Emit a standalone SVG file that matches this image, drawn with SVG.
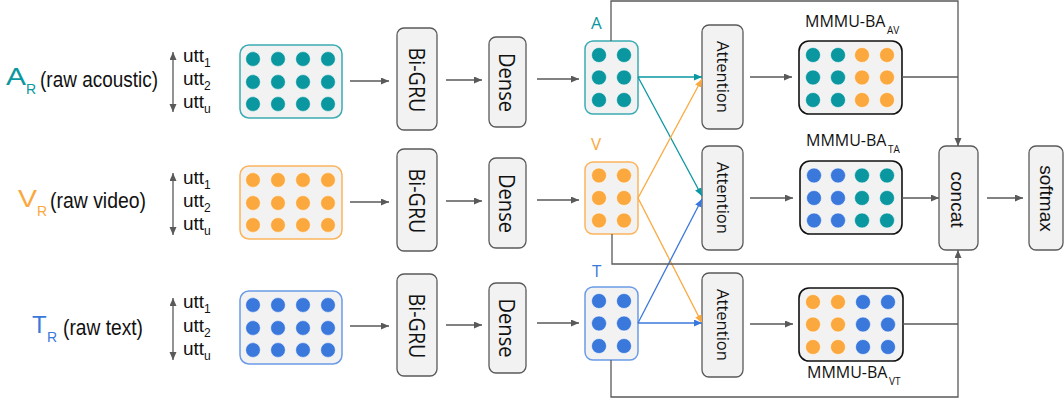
<svg xmlns="http://www.w3.org/2000/svg" width="1064" height="408" viewBox="0 0 1064 408">
<defs>
<style>
.box{fill:#f2f2f2;stroke:#595959;stroke-width:1.3}
.mm{fill:#f2f2f2;stroke:#111;stroke-width:1.6}
.ln{fill:none;stroke:#595959;stroke-width:1.3}
.tl{fill:none;stroke:#0a97a0;stroke-width:1.3}
.og{fill:none;stroke:#fba83e;stroke-width:1.3}
.bl{fill:none;stroke:#3b78dc;stroke-width:1.3}
.t{fill:#0a97a0}.o{fill:#fba83e}.b{fill:#3b78dc}
.dot{stroke:#fff;stroke-width:0.6}
.lab{font-family:"Liberation Sans",Arial,sans-serif;fill:#111}
.os{font-family:"Open Sans","Noto Sans",sans-serif;fill:#111}
.rot{font-family:"Open Sans","Noto Sans",sans-serif;fill:#111;text-anchor:middle}
</style>
<marker id="ag" markerUnits="userSpaceOnUse" markerWidth="9" markerHeight="8" refX="8" refY="3.5" orient="auto"><path d="M0,0 L8,3.5 L0,7 z" fill="#595959"/></marker>
<marker id="ags" markerUnits="userSpaceOnUse" markerWidth="9" markerHeight="8" refX="8" refY="3.5" orient="auto-start-reverse"><path d="M0,0 L8,3.5 L0,7 z" fill="#595959"/></marker>
<marker id="at" markerUnits="userSpaceOnUse" markerWidth="9" markerHeight="8" refX="8" refY="3.5" orient="auto"><path d="M0,0 L8,3.5 L0,7 z" fill="#0a97a0"/></marker>
<marker id="ao" markerUnits="userSpaceOnUse" markerWidth="9" markerHeight="8" refX="8" refY="3.5" orient="auto"><path d="M0,0 L8,3.5 L0,7 z" fill="#fba83e"/></marker>
<marker id="ab" markerUnits="userSpaceOnUse" markerWidth="9" markerHeight="8" refX="8" refY="3.5" orient="auto"><path d="M0,0 L8,3.5 L0,7 z" fill="#3b78dc"/></marker>
</defs>
<rect width="1064" height="408" fill="#fff"/>

<!-- left labels -->
<g id="label-A">
<text class="lab" x="6" y="85" font-size="24" textLength="20" lengthAdjust="spacingAndGlyphs" style="fill:#0a97a0">A</text>
<text class="lab" x="26" y="94" font-size="14" style="fill:#0a97a0">R</text>
<text class="lab" x="40" y="87" font-size="22" textLength="118" lengthAdjust="spacingAndGlyphs">(raw acoustic)</text>
</g>
<g id="label-V">
<text class="lab" x="18" y="207" font-size="24" textLength="19" lengthAdjust="spacingAndGlyphs" style="fill:#fba83e">V</text>
<text class="lab" x="37" y="216" font-size="14" style="fill:#fba83e">R</text>
<text class="lab" x="50" y="208" font-size="22" textLength="96" lengthAdjust="spacingAndGlyphs">(raw video)</text>
</g>
<g id="label-T">
<text class="lab" x="32" y="333" font-size="24" style="fill:#3b78dc">T</text>
<text class="lab" x="47" y="342" font-size="14" style="fill:#3b78dc">R</text>
<text class="lab" x="63" y="335" font-size="22" textLength="80" lengthAdjust="spacingAndGlyphs">(raw text)</text>
</g>

<!-- utterance labels -->
<g id="utt-A">
<line class="ln" x1="173" y1="52" x2="173" y2="112" marker-start="url(#ags)" marker-end="url(#ags)"/>
<text class="lab" x="183" y="62" font-size="19">utt</text><text class="lab" x="204" y="67" font-size="12">1</text>
<text class="lab" x="183" y="85" font-size="19">utt</text><text class="lab" x="204" y="90" font-size="12">2</text>
<text class="lab" x="183" y="108" font-size="19">utt</text><text class="lab" x="204" y="113" font-size="12">u</text>
</g>
<g id="utt-V">
<line class="ln" x1="173" y1="173" x2="173" y2="235" marker-start="url(#ags)" marker-end="url(#ags)"/>
<text class="lab" x="183" y="184" font-size="19">utt</text><text class="lab" x="204" y="189" font-size="12">1</text>
<text class="lab" x="183" y="207" font-size="19">utt</text><text class="lab" x="204" y="212" font-size="12">2</text>
<text class="lab" x="183" y="230" font-size="19">utt</text><text class="lab" x="204" y="235" font-size="12">u</text>
</g>
<g id="utt-T">
<line class="ln" x1="173" y1="298" x2="173" y2="360" marker-start="url(#ags)" marker-end="url(#ags)"/>
<text class="lab" x="183" y="308" font-size="19">utt</text><text class="lab" x="204" y="313" font-size="12">1</text>
<text class="lab" x="183" y="332" font-size="19">utt</text><text class="lab" x="204" y="337" font-size="12">2</text>
<text class="lab" x="183" y="355" font-size="19">utt</text><text class="lab" x="204" y="360" font-size="12">u</text>
</g>

<!-- input matrices -->
<g id="input-A">
<rect x="240" y="45" width="102" height="73" rx="9" fill="#f2f2f2" stroke="#3aacb3" stroke-width="1.5"/>
<g class="t">
<circle class="dot" cx="253" cy="59" r="7.4"/><circle class="dot" cx="278" cy="59" r="7.4"/><circle class="dot" cx="303" cy="59" r="7.4"/><circle class="dot" cx="328" cy="59" r="7.4"/>
<circle class="dot" cx="253" cy="82" r="7.4"/><circle class="dot" cx="278" cy="82" r="7.4"/><circle class="dot" cx="303" cy="82" r="7.4"/><circle class="dot" cx="328" cy="82" r="7.4"/>
<circle class="dot" cx="253" cy="104" r="7.4"/><circle class="dot" cx="278" cy="104" r="7.4"/><circle class="dot" cx="303" cy="104" r="7.4"/><circle class="dot" cx="328" cy="104" r="7.4"/>
</g>
</g>
<g id="input-V">
<rect x="240" y="166" width="102" height="73" rx="9" fill="#f2f2f2" stroke="#fbb45c" stroke-width="1.5"/>
<g class="o">
<circle class="dot" cx="253" cy="180" r="7.4"/><circle class="dot" cx="278" cy="180" r="7.4"/><circle class="dot" cx="303" cy="180" r="7.4"/><circle class="dot" cx="328" cy="180" r="7.4"/>
<circle class="dot" cx="253" cy="203" r="7.4"/><circle class="dot" cx="278" cy="203" r="7.4"/><circle class="dot" cx="303" cy="203" r="7.4"/><circle class="dot" cx="328" cy="203" r="7.4"/>
<circle class="dot" cx="253" cy="225" r="7.4"/><circle class="dot" cx="278" cy="225" r="7.4"/><circle class="dot" cx="303" cy="225" r="7.4"/><circle class="dot" cx="328" cy="225" r="7.4"/>
</g>
</g>
<g id="input-T">
<rect x="240" y="291" width="102" height="73" rx="9" fill="#f2f2f2" stroke="#6b9ae6" stroke-width="1.5"/>
<g class="b">
<circle class="dot" cx="253" cy="305" r="7.4"/><circle class="dot" cx="278" cy="305" r="7.4"/><circle class="dot" cx="303" cy="305" r="7.4"/><circle class="dot" cx="328" cy="305" r="7.4"/>
<circle class="dot" cx="253" cy="328" r="7.4"/><circle class="dot" cx="278" cy="328" r="7.4"/><circle class="dot" cx="303" cy="328" r="7.4"/><circle class="dot" cx="328" cy="328" r="7.4"/>
<circle class="dot" cx="253" cy="350" r="7.4"/><circle class="dot" cx="278" cy="350" r="7.4"/><circle class="dot" cx="303" cy="350" r="7.4"/><circle class="dot" cx="328" cy="350" r="7.4"/>
</g>
</g>

<!-- Bi-GRU -->
<g id="bigru-A"><rect class="box" x="397" y="28" width="40" height="102" rx="7"/><text class="rot" transform="translate(417,80) rotate(90)" y="8.5" font-size="22" textLength="65" lengthAdjust="spacingAndGlyphs">Bi-GRU</text></g>
<g id="bigru-V"><rect class="box" x="397" y="149" width="40" height="102" rx="7"/><text class="rot" transform="translate(417,201) rotate(90)" y="8.5" font-size="22" textLength="65" lengthAdjust="spacingAndGlyphs">Bi-GRU</text></g>
<g id="bigru-T"><rect class="box" x="397" y="274" width="40" height="102" rx="7"/><text class="rot" transform="translate(417,326) rotate(90)" y="8.5" font-size="22" textLength="65" lengthAdjust="spacingAndGlyphs">Bi-GRU</text></g>

<!-- Dense -->
<g id="dense-A"><rect class="box" x="489" y="37" width="37" height="90" rx="7"/><text class="rot" transform="translate(507.5,82.5) rotate(90)" y="8.5" font-size="22" textLength="59" lengthAdjust="spacingAndGlyphs">Dense</text></g>
<g id="dense-V"><rect class="box" x="489" y="158" width="37" height="90" rx="7"/><text class="rot" transform="translate(507.5,203.5) rotate(90)" y="8.5" font-size="22" textLength="59" lengthAdjust="spacingAndGlyphs">Dense</text></g>
<g id="dense-T"><rect class="box" x="489" y="283" width="37" height="90" rx="7"/><text class="rot" transform="translate(507.5,328) rotate(90)" y="8.5" font-size="22" textLength="59" lengthAdjust="spacingAndGlyphs">Dense</text></g>

<!-- A V T dense outputs -->
<g id="node-A">
<text class="os" x="591" y="29" font-size="17" style="fill:#0a97a0">A</text>
<rect x="585" y="41" width="53" height="73" rx="8" fill="#f2f2f2" stroke="#3aacb3" stroke-width="1.5"/>
<g class="t"><circle class="dot" cx="599" cy="55" r="7.5"/><circle class="dot" cx="624" cy="55" r="7.5"/><circle class="dot" cx="599" cy="77.5" r="7.5"/><circle class="dot" cx="624" cy="77.5" r="7.5"/><circle class="dot" cx="599" cy="100" r="7.5"/><circle class="dot" cx="624" cy="100" r="7.5"/></g>
</g>
<g id="node-V">
<text class="os" x="591" y="150" font-size="17" style="fill:#fba83e">V</text>
<rect x="585" y="162" width="53" height="72" rx="8" fill="#f2f2f2" stroke="#fbb45c" stroke-width="1.5"/>
<g class="o"><circle class="dot" cx="599" cy="175.5" r="7.5"/><circle class="dot" cx="624" cy="175.5" r="7.5"/><circle class="dot" cx="599" cy="198" r="7.5"/><circle class="dot" cx="624" cy="198" r="7.5"/><circle class="dot" cx="599" cy="220.5" r="7.5"/><circle class="dot" cx="624" cy="220.5" r="7.5"/></g>
</g>
<g id="node-T">
<text class="os" x="592" y="277" font-size="17" style="fill:#3b78dc">T</text>
<rect x="585" y="287" width="53" height="73" rx="8" fill="#f2f2f2" stroke="#6b9ae6" stroke-width="1.5"/>
<g class="b"><circle class="dot" cx="599" cy="301" r="7.5"/><circle class="dot" cx="624" cy="301" r="7.5"/><circle class="dot" cx="599" cy="323.5" r="7.5"/><circle class="dot" cx="624" cy="323.5" r="7.5"/><circle class="dot" cx="599" cy="346" r="7.5"/><circle class="dot" cx="624" cy="346" r="7.5"/></g>
</g>

<!-- Attention -->
<g id="attention-1"><rect class="box" x="702" y="25" width="41" height="104" rx="7"/><text class="rot" transform="translate(722.5,77) rotate(90)" y="6" font-size="17" textLength="72" lengthAdjust="spacingAndGlyphs">Attention</text></g>
<g id="attention-2"><rect class="box" x="702" y="146" width="41" height="104" rx="7"/><text class="rot" transform="translate(722.5,198) rotate(90)" y="6" font-size="17" textLength="72" lengthAdjust="spacingAndGlyphs">Attention</text></g>
<g id="attention-3"><rect class="box" x="702" y="273" width="41" height="104" rx="7"/><text class="rot" transform="translate(722.5,325) rotate(90)" y="6" font-size="17" textLength="72" lengthAdjust="spacingAndGlyphs">Attention</text></g>

<!-- MMMU-BA -->
<g id="mmmu-AV">
<text class="os" x="805" y="27" font-size="16">MMMU-BA</text><text class="os" x="887" y="34" font-size="10">AV</text>
<rect class="mm" x="799" y="41" width="103" height="73" rx="10"/>
<g class="t"><circle class="dot" cx="813" cy="55" r="7.5"/><circle class="dot" cx="838" cy="55" r="7.5"/><circle class="dot" cx="813" cy="77.5" r="7.5"/><circle class="dot" cx="838" cy="77.5" r="7.5"/><circle class="dot" cx="813" cy="100" r="7.5"/><circle class="dot" cx="838" cy="100" r="7.5"/></g>
<g class="o"><circle class="dot" cx="862" cy="55" r="7.5"/><circle class="dot" cx="887" cy="55" r="7.5"/><circle class="dot" cx="862" cy="77.5" r="7.5"/><circle class="dot" cx="887" cy="77.5" r="7.5"/><circle class="dot" cx="862" cy="100" r="7.5"/><circle class="dot" cx="887" cy="100" r="7.5"/></g>
</g>
<g id="mmmu-TA">
<text class="os" x="806" y="146" font-size="16">MMMU-BA</text><text class="os" x="888" y="153" font-size="10">TA</text>
<rect class="mm" x="800" y="161" width="102" height="73" rx="10"/>
<g class="b"><circle class="dot" cx="814" cy="175.5" r="7.5"/><circle class="dot" cx="838" cy="175.5" r="7.5"/><circle class="dot" cx="814" cy="198" r="7.5"/><circle class="dot" cx="838" cy="198" r="7.5"/><circle class="dot" cx="814" cy="220.5" r="7.5"/><circle class="dot" cx="838" cy="220.5" r="7.5"/></g>
<g class="t"><circle class="dot" cx="862" cy="175.5" r="7.5"/><circle class="dot" cx="887" cy="175.5" r="7.5"/><circle class="dot" cx="862" cy="198" r="7.5"/><circle class="dot" cx="887" cy="198" r="7.5"/><circle class="dot" cx="862" cy="220.5" r="7.5"/><circle class="dot" cx="887" cy="220.5" r="7.5"/></g>
</g>
<g id="mmmu-VT">
<rect class="mm" x="799" y="288" width="104" height="73" rx="10"/>
<g class="o"><circle class="dot" cx="813" cy="302" r="7.5"/><circle class="dot" cx="838" cy="302" r="7.5"/><circle class="dot" cx="813" cy="324.5" r="7.5"/><circle class="dot" cx="838" cy="324.5" r="7.5"/><circle class="dot" cx="813" cy="347" r="7.5"/><circle class="dot" cx="838" cy="347" r="7.5"/></g>
<g class="b"><circle class="dot" cx="863" cy="302" r="7.5"/><circle class="dot" cx="888" cy="302" r="7.5"/><circle class="dot" cx="863" cy="324.5" r="7.5"/><circle class="dot" cx="888" cy="324.5" r="7.5"/><circle class="dot" cx="863" cy="347" r="7.5"/><circle class="dot" cx="888" cy="347" r="7.5"/></g>
<text class="os" x="807" y="378" font-size="16">MMMU-BA</text><text class="os" x="889" y="385" font-size="10">VT</text>
</g>

<!-- concat / softmax -->
<g id="concat"><rect class="box" x="939" y="146" width="39" height="104" rx="7"/><text class="lab" transform="translate(958.5,199.5) rotate(90)" y="8" font-size="19" text-anchor="middle">concat</text></g>
<g id="softmax"><rect class="box" x="1029" y="146" width="34" height="104" rx="7"/><text class="lab" transform="translate(1046,198.5) rotate(90)" y="6" font-size="19" text-anchor="middle">softmax</text></g>

<!-- connectors -->
<g id="connectors">
<line class="ln" x1="350" y1="81" x2="389" y2="81" marker-end="url(#ag)"/>
<line class="ln" x1="446" y1="80" x2="482" y2="80" marker-end="url(#ag)"/>
<line class="ln" x1="537" y1="79" x2="579" y2="79" marker-end="url(#ag)"/>
<line class="ln" x1="350" y1="202" x2="389" y2="202" marker-end="url(#ag)"/>
<line class="ln" x1="446" y1="201" x2="482" y2="201" marker-end="url(#ag)"/>
<line class="ln" x1="537" y1="200" x2="579" y2="200" marker-end="url(#ag)"/>
<line class="ln" x1="350" y1="326" x2="389" y2="326" marker-end="url(#ag)"/>
<line class="ln" x1="446" y1="325" x2="482" y2="325" marker-end="url(#ag)"/>
<line class="ln" x1="537" y1="323" x2="579" y2="323" marker-end="url(#ag)"/>

<line class="tl" x1="638" y1="77" x2="702" y2="77" marker-end="url(#at)"/>
<line class="tl" x1="638" y1="77" x2="702" y2="196" marker-end="url(#at)"/>
<line class="og" x1="638" y1="198" x2="702" y2="79" marker-end="url(#ao)"/>
<line class="og" x1="638" y1="198" x2="702" y2="323" marker-end="url(#ao)"/>
<line class="bl" x1="638" y1="323" x2="702" y2="323" marker-end="url(#ab)"/>
<line class="bl" x1="638" y1="323" x2="702" y2="199" marker-end="url(#ab)"/>

<line class="ln" x1="750" y1="77" x2="792" y2="77" marker-end="url(#ag)"/>
<line class="ln" x1="750" y1="198" x2="793" y2="198" marker-end="url(#ag)"/>
<line class="ln" x1="750" y1="324" x2="793" y2="324" marker-end="url(#ag)"/>

<path class="ln" d="M611,41 V1 H958 V146" marker-end="url(#ag)"/>
<path class="ln" d="M902,77 H958"/>
<line class="ln" x1="902" y1="198" x2="939" y2="198" marker-end="url(#ag)"/>
<path class="ln" d="M612,234 V264 H958"/>
<path class="ln" d="M903,324 H958"/>
<path class="ln" d="M611,360 V397 H958 V250" marker-end="url(#ag)"/>
<line class="ln" x1="987" y1="198" x2="1023" y2="198" marker-end="url(#ag)"/>
</g>
</svg>
